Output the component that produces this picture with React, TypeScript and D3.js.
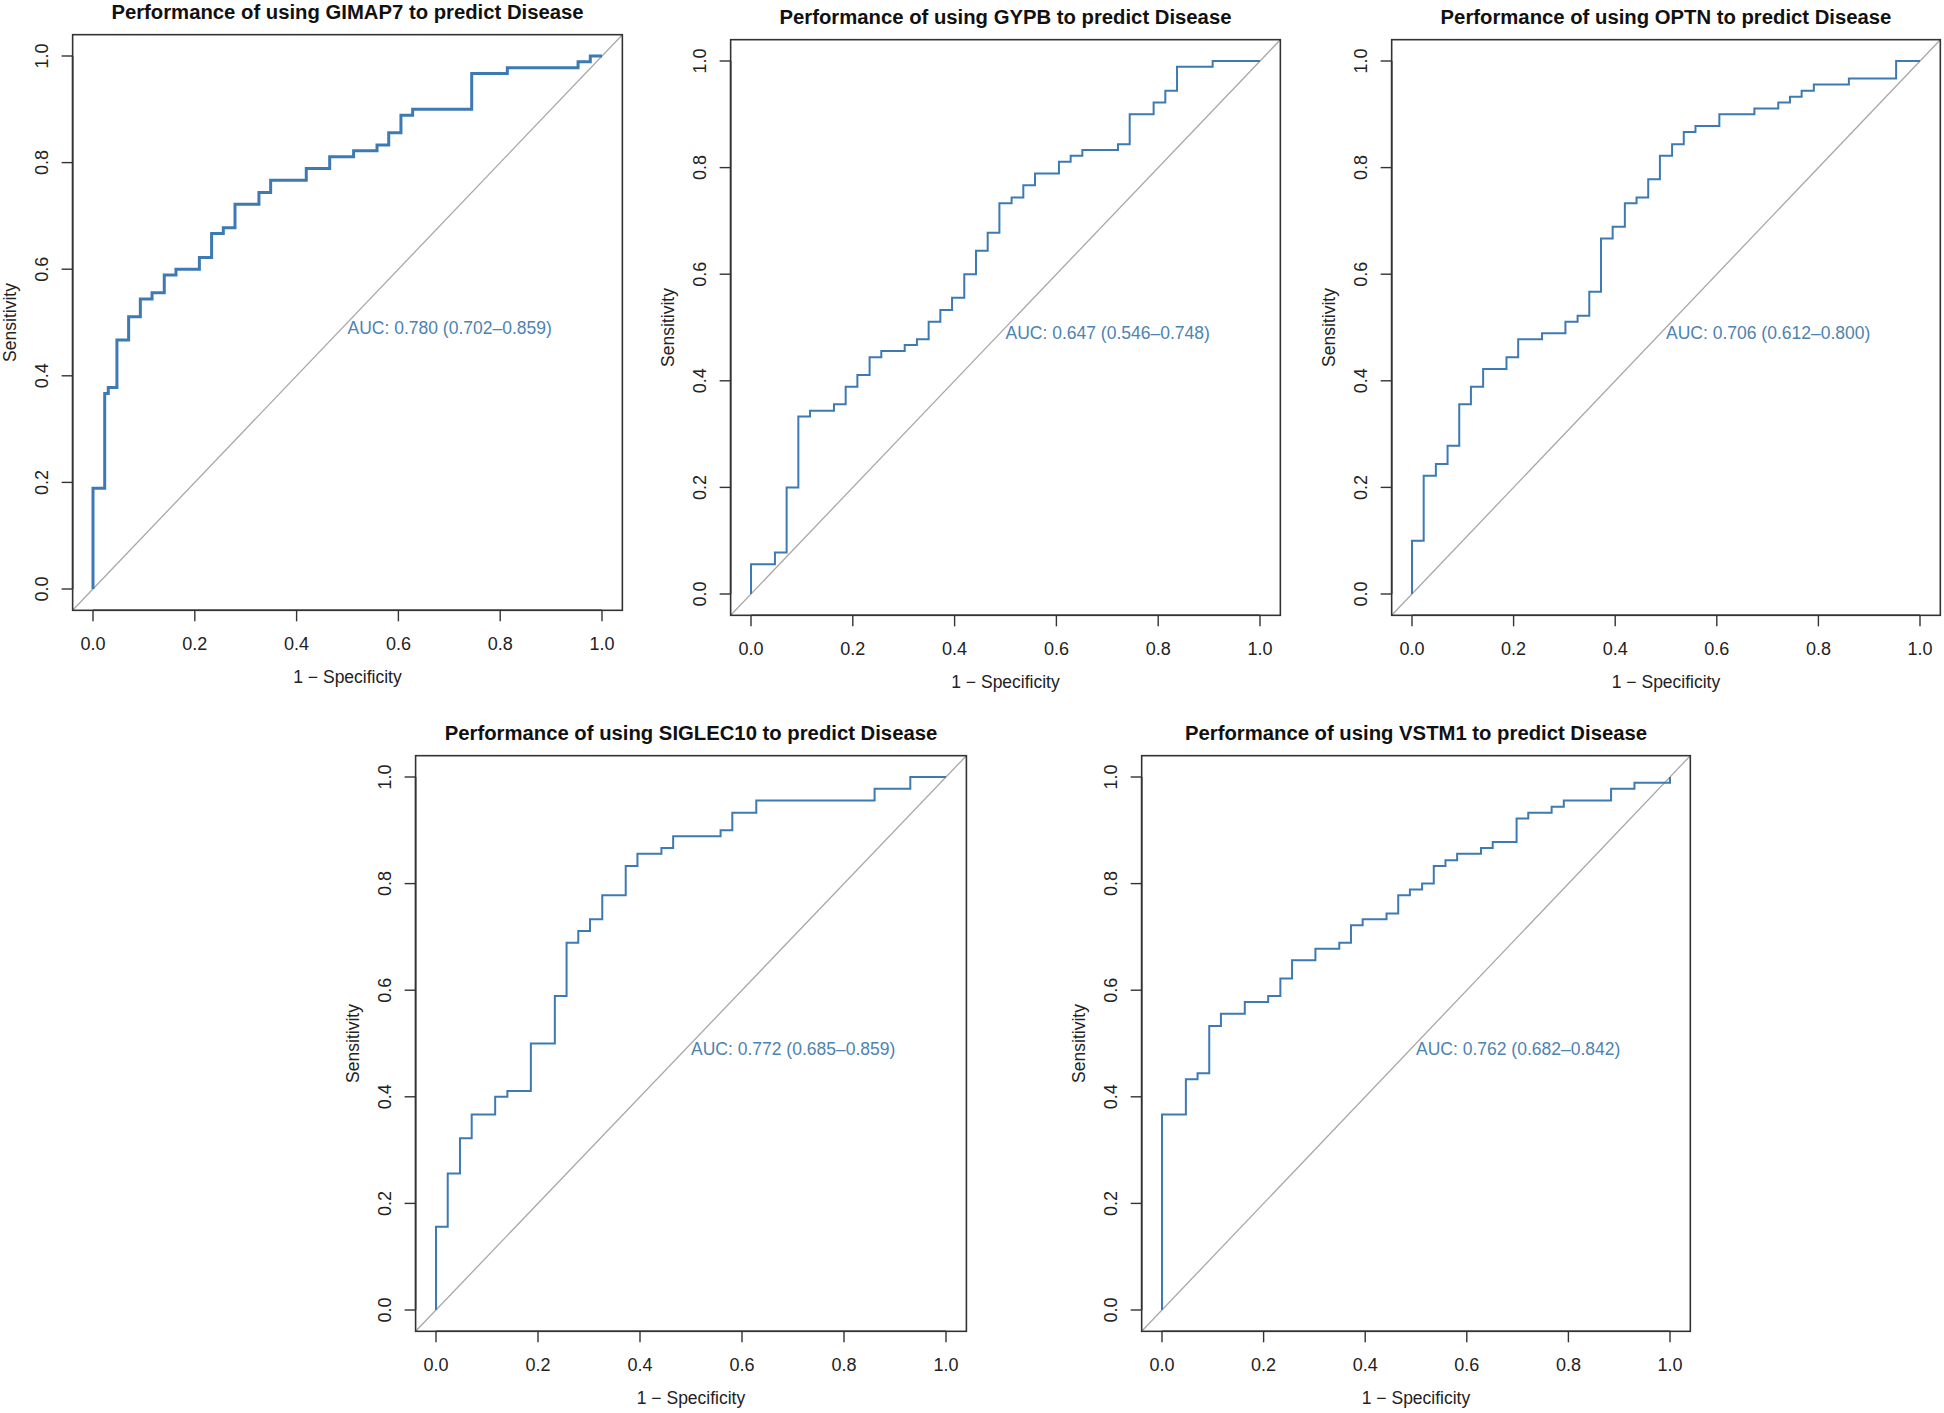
import React from "react";
import * as d3 from "d3";

// ---- data ----
const genes = ["GIMAP7", "GYPB", "OPTN", "SIGLEC10", "VSTM1"];
const aucLabels = [
  "AUC: 0.780 (0.702\u20130.859)",
  "AUC: 0.647 (0.546\u20130.748)",
  "AUC: 0.706 (0.612\u20130.800)",
  "AUC: 0.772 (0.685\u20130.859)",
  "AUC: 0.762 (0.682\u20130.842)",
];
const tickValues = [0, 0.2, 0.4, 0.6, 0.8, 1.0];

const gimap7Fpr = [0, 0, 0.023, 0.030, 0.047, 0.070, 0.093, 0.116, 0.140, 0.163, 0.209, 0.233, 0.256, 0.279, 0.326, 0.349, 0.419, 0.465, 0.512, 0.558, 0.581, 0.605, 0.628, 0.744, 0.814, 0.953, 0.977, 1.0];
const gimap7Tpr = [0, 0.189, 0.367, 0.378, 0.467, 0.511, 0.544, 0.556, 0.589, 0.600, 0.622, 0.667, 0.678, 0.722, 0.744, 0.767, 0.789, 0.811, 0.822, 0.833, 0.856, 0.889, 0.900, 0.967, 0.978, 0.989, 1.0, 1.0];

const gypbFpr = [0, 0, 0.047, 0.070, 0.093, 0.116, 0.163, 0.186, 0.209, 0.233, 0.256, 0.302, 0.326, 0.349, 0.372, 0.395, 0.419, 0.442, 0.465, 0.488, 0.512, 0.535, 0.558, 0.605, 0.628, 0.651, 0.721, 0.744, 0.791, 0.814, 0.837, 0.907, 1.0];
const gypbTpr = [0, 0.056, 0.078, 0.200, 0.333, 0.344, 0.356, 0.389, 0.411, 0.444, 0.456, 0.467, 0.478, 0.511, 0.533, 0.556, 0.600, 0.644, 0.678, 0.733, 0.744, 0.767, 0.789, 0.811, 0.822, 0.833, 0.844, 0.900, 0.922, 0.944, 0.989, 1.0, 1.0];

const optnFpr = [0, 0, 0.023, 0.047, 0.070, 0.093, 0.116, 0.140, 0.186, 0.209, 0.256, 0.302, 0.326, 0.349, 0.372, 0.395, 0.419, 0.442, 0.465, 0.488, 0.512, 0.535, 0.558, 0.605, 0.674, 0.721, 0.744, 0.767, 0.791, 0.860, 0.953, 1.0];
const optnTpr = [0, 0.100, 0.222, 0.244, 0.278, 0.356, 0.389, 0.422, 0.444, 0.478, 0.489, 0.511, 0.522, 0.567, 0.667, 0.689, 0.733, 0.744, 0.778, 0.822, 0.844, 0.867, 0.878, 0.900, 0.911, 0.922, 0.933, 0.944, 0.956, 0.967, 1.0, 1.0];

const siglec10Fpr = [0, 0, 0.023, 0.047, 0.070, 0.116, 0.140, 0.186, 0.233, 0.256, 0.279, 0.302, 0.326, 0.372, 0.395, 0.442, 0.465, 0.558, 0.581, 0.628, 0.860, 0.930, 1.0];
const siglec10Tpr = [0, 0.156, 0.256, 0.322, 0.367, 0.400, 0.411, 0.500, 0.589, 0.689, 0.711, 0.733, 0.778, 0.833, 0.856, 0.867, 0.889, 0.900, 0.933, 0.956, 0.978, 1.0, 1.0];

const vstm1Fpr = [0, 0, 0.047, 0.070, 0.093, 0.116, 0.163, 0.209, 0.233, 0.256, 0.302, 0.349, 0.372, 0.395, 0.442, 0.465, 0.488, 0.512, 0.535, 0.558, 0.581, 0.628, 0.651, 0.698, 0.721, 0.767, 0.791, 0.884, 0.930, 1.0];
const vstm1Tpr = [0, 0.367, 0.433, 0.444, 0.533, 0.556, 0.578, 0.589, 0.622, 0.656, 0.678, 0.689, 0.722, 0.733, 0.744, 0.778, 0.789, 0.800, 0.833, 0.844, 0.856, 0.867, 0.878, 0.922, 0.933, 0.944, 0.956, 0.978, 0.989, 1.0];

const fprs = [gimap7Fpr, gypbFpr, optnFpr, siglec10Fpr, vstm1Fpr];
const tprs = [gimap7Tpr, gypbTpr, optnTpr, siglec10Tpr, vstm1Tpr];

// ---- layout (pixel positions of value 0 and 1 on each axis) ----
const layout = [
  { x0: 93, x1: 602, yTop: 56, yBot: 589, lw: 3.0 },
  { x0: 751, x1: 1260, yTop: 61, yBot: 594, lw: 2.0 },
  { x0: 1412, x1: 1920, yTop: 61, yBot: 594, lw: 2.0 },
  { x0: 436, x1: 946, yTop: 777, yBot: 1310, lw: 2.0 },
  { x0: 1162, x1: 1670, yTop: 777, yBot: 1310, lw: 2.0 },
];

const FONT = "'Liberation Sans', Arial, Helvetica, sans-serif";
const LINE_COLOR = "#3d7ab3";
const AUC_COLOR = "#4d83b0";
const FS = 17.5;
const TICK_FS = 18;

function Panel({ i }: { i: number }) {
  const L = layout[i];
  const x = d3.scaleLinear().domain([0, 1]).range([L.x0, L.x1]);
  const y = d3.scaleLinear().domain([0, 1]).range([L.yBot, L.yTop]);
  const padX = (L.x1 - L.x0) * 0.04;
  const padY = (L.yBot - L.yTop) * 0.04;
  const left = L.x0 - padX;
  const right = L.x1 + padX;
  const top = L.yTop - padY;
  const bottom = L.yBot + padY;
  const pts: [number, number][] = fprs[i].map((f, k) => [f, tprs[i][k]]);
  const line = d3
    .line<[number, number]>()
    .x((d) => x(d[0]))
    .y((d) => y(d[1]))
    .curve(d3.curveStepAfter);
  const cx = (L.x0 + L.x1) / 2;
  const cy = (L.yTop + L.yBot) / 2;
  return (
    <g fontFamily={FONT}>
      <text x={cx} y={top - 16} textAnchor="middle" fontWeight="bold" fontSize={20.3} fill="#111">
        {`Performance of using ${genes[i]} to predict Disease`}
      </text>
      {/* diagonal reference */}
      <line x1={x(-0.04)} y1={y(-0.04)} x2={x(1.04)} y2={y(1.04)} stroke="#a8a8a8" strokeWidth={1.3} />
      {/* ROC curve */}
      <path d={line(pts) || ""} fill="none" stroke={LINE_COLOR} strokeWidth={L.lw} strokeLinejoin="miter" />
      <text x={x(0.5)} y={y(0.489)} dominantBaseline="central" fontSize={FS} fill={AUC_COLOR}>
        {aucLabels[i]}
      </text>
      {/* box */}
      <rect x={left} y={top} width={right - left} height={bottom - top} fill="none" stroke="#333" strokeWidth={1.6} />
      {/* x axis */}
      <line x1={x(0)} x2={x(1)} y1={bottom} y2={bottom} stroke="#333" strokeWidth={1.6} />
      {tickValues.map((t) => (
        <g key={"x" + t}>
          <line x1={x(t)} x2={x(t)} y1={bottom} y2={bottom + 11} stroke="#333" strokeWidth={1.4} />
          <text x={x(t)} y={bottom + 34} textAnchor="middle" dominantBaseline="central" fontSize={TICK_FS} fill="#222">
            {d3.format(".1f")(t)}
          </text>
        </g>
      ))}
      {/* y axis */}
      <line x1={left} x2={left} y1={y(0)} y2={y(1)} stroke="#333" strokeWidth={1.6} />
      {tickValues.map((t) => (
        <g key={"y" + t}>
          <line x1={left - 11} x2={left} y1={y(t)} y2={y(t)} stroke="#333" strokeWidth={1.4} />
          <text
            transform={`translate(${left - 31},${y(t)}) rotate(-90)`}
            textAnchor="middle"
            dominantBaseline="central"
            fontSize={TICK_FS}
            fill="#222"
          >
            {d3.format(".1f")(t)}
          </text>
        </g>
      ))}
      <text x={cx} y={bottom + 67} textAnchor="middle" dominantBaseline="central" fontSize={FS} fill="#222">
        1 {"\u2212"} Specificity
      </text>
      <text
        transform={`translate(${left - 63},${cy}) rotate(-90)`}
        textAnchor="middle"
        dominantBaseline="central"
        fontSize={FS}
        fill="#222"
      >
        Sensitivity
      </text>
    </g>
  );
}

export default function App() {
  return (
    <svg
      width={1944}
      height={1413}
      style={{ position: "absolute", left: 0, top: 0, display: "block", background: "#fff" }}
    >
      <rect x={0} y={0} width={1944} height={1413} fill="#fff" />
      {genes.map((g, i) => (
        <Panel key={g} i={i} />
      ))}
    </svg>
  );
}
